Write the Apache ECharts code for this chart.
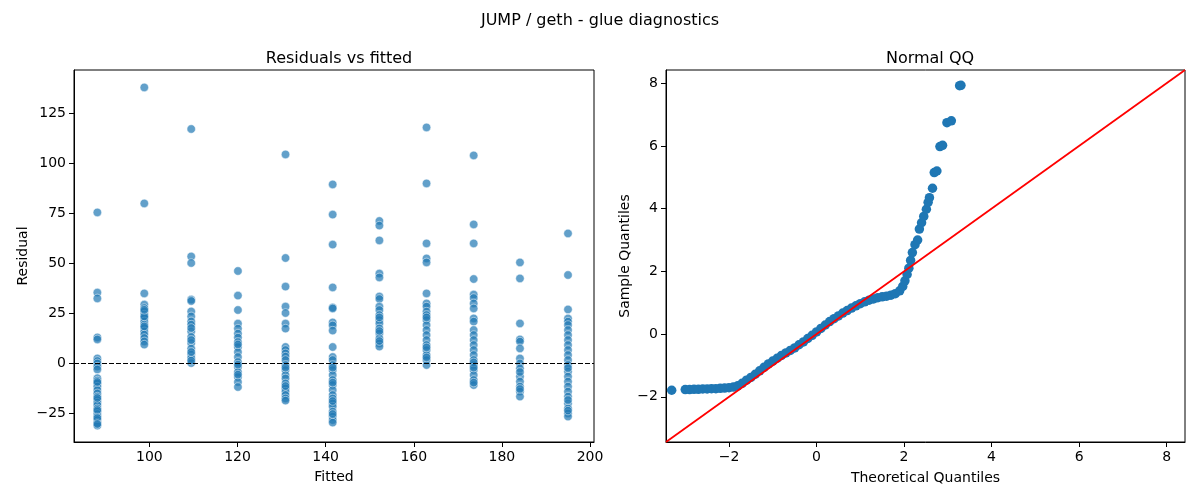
<!DOCTYPE html>
<html lang="en">
<head>
<meta charset="UTF-8">
<title>JUMP / geth - glue diagnostics</title>
<style>html,body{margin:0;padding:0;background:#fff;}</style>
</head>
<body>
<script src="https://cdn.jsdelivr.net/npm/echarts@6/dist/echarts.min.js"></script>
<div id="main" style="width:1200px;height:500px;"></div>
<script type="text/javascript">
// fitted levels (one column of residuals per level)
var fitted = [88.2, 98.85, 109.5, 120.1, 130.9, 141.6, 152.2, 162.9, 173.6, 184.1, 195.0];

// residuals read per column
var res1 = [75.3, 35.2, 32.3, 12.8, 11.8, 2.3, 1.0, -0.2, -1.8, -3.2, -7.6, -8.8, -10.2, -11.8, -13.5, -15.2, -16.8, -18.5, -19.8, -21, -22.7, -24.3, -25.5, -26.8, -28.5, -29.8, -31.3, -9.5, -17.5, -23.5, -27.5, -30.5];
var res2 = [137.8, 79.8, 34.8, 29.2, 27.5, 25.8, 24.2, 22.5, 20.8, 19.2, 17.5, 15.8, 14.2, 12.5, 10.8, 9.2, 18.3, 23.3, 26.6];
var res3 = [117, 53.3, 50, 31.7, 31, 25.8, 23.3, 20.8, 19.2, 15.8, 13, 10, 7.2, 4.2, 2.5, 0, 1.2, 5.5, 11.5, 17.5];
var res4 = [46, 33.7, 26.5, 19.7, 17.2, 14.7, 12.7, 10.5, 8, 5.5, 3, 0.5, -2, -4.5, -7, -9.5, -12, -0.8, -5.8, 9.3];
var res5 = [104.3, 52.5, 38.2, 28.2, 25, 19.7, 17.2, 8, 6.5, 4.8, 3.2, 1.5, -1, -3.5, -6, -7.7, -10.2, -12.7, -14.3, -16, -17.7, -18.8, -2.3, -11.5];
var res6 = [89.3, 74.2, 59.2, 37.8, 27.8, 27.3, 20.3, 18.8, 16.2, 8, 3, 1.5, -1, -3.5, -6, -8.5, -11, -13.5, -16, -17.7, -20.2, -21.8, -24.3, -26.8, -28.5, -29.8, -2.3, -9.8, -19, -25.5];
var res7 = [71, 68.7, 61.3, 44.7, 42.8, 33.2, 32, 28.2, 26.5, 24, 21.5, 19.8, 17.3, 14.8, 12.3, 9.8, 8.2, 22.8, 16, 11];
var res8 = [117.8, 89.8, 59.8, 52.3, 50.3, 34.8, 29.8, 28.2, 25.7, 24, 21.5, 19, 16.5, 14, 11.5, 9, 6.5, 4, 1.5, -1, 2.8, 7.8, 22.8];
var res9 = [103.8, 69.3, 59.8, 42, 34.2, 32.5, 29.8, 27.3, 22.3, 20.7, 16.5, 14, 11.5, 9, 6.5, 4, 1.5, -1, -3.5, -6, -8.5, -11, 0.3, -2.3, -9.8];
var res10 = [50.3, 42.3, 19.8, 11.8, 10.7, 7.3, 2.3, -0.2, -2.7, -6.8, -9.3, -11.8, -14.3, -16.8, -4.5, -13];
var res11 = [64.8, 44, 26.8, 22.3, 20.7, 19, 16.5, 14, 11.5, 9, 6.5, 4, 1.5, -1, -4.3, -6.8, -9.3, -11.8, -14.3, -16.8, -20.2, -22.7, -25.2, -26.8, -2.5, -18.5, -23.8];
var residualGroups = [res1, res2, res3, res4, res5, res6, res7, res8, res9, res10, res11];

// normal QQ points
var qqTheoretical = [-3.31, -3.0, -2.9, -2.8, -2.7, -2.6, -2.5, -2.4, -2.3, -2.2, -2.1, -2.0, -1.9, -1.8, -1.7, -1.6, -1.5, -1.4, -1.3, -1.2, -1.1, -1.0, -0.9, -0.8, -0.7, -0.6, -0.5, -0.4, -0.3, -0.2, -0.1, 0, 0.1, 0.2, 0.3, 0.4, 0.5, 0.6, 0.7, 0.8, 0.9, 1.0, 1.1, 1.2, 1.3, 1.4, 1.5, 1.6, 1.7, 1.8, 1.9, 1.97, 2.02, 2.07, 2.11, 2.15, 2.19, 2.25, 2.31, 2.35, 2.4, 2.45, 2.51, 2.55, 2.58, 2.65, 2.69, 2.75, 2.82, 2.88, 2.98, 3.08, 3.27, 3.3];
var qqSample = [-1.79, -1.77, -1.77, -1.76, -1.76, -1.75, -1.75, -1.74, -1.74, -1.73, -1.72, -1.71, -1.69, -1.65, -1.57, -1.47, -1.38, -1.28, -1.17, -1.06, -0.95, -0.86, -0.77, -0.68, -0.6, -0.52, -0.44, -0.34, -0.25, -0.14, -0.04, 0.07, 0.18, 0.29, 0.4, 0.49, 0.58, 0.67, 0.75, 0.83, 0.9, 0.97, 1.03, 1.08, 1.12, 1.16, 1.19, 1.21, 1.24, 1.29, 1.38, 1.52, 1.7, 1.9, 2.1, 2.35, 2.6, 2.85, 3.0, 3.35, 3.55, 3.75, 3.98, 4.2, 4.35, 4.65, 5.15, 5.2, 5.98, 6.02, 6.74, 6.8, 7.92, 7.93];

// axis limits and ticks
var fittedRange = [82.9, 200.9];
var residRange = [-39.5, 146.5];
var qqRange = [-3.44, 8.42];
var fittedTicks = [100, 120, 140, 160, 180, 200];
var residTicks = [-25, 0, 25, 50, 75, 100, 125];
var qqTicks = [-2, 0, 2, 4, 6, 8];

var scatterPts = [];
for (var i = 0; i < fitted.length; i++) {
    for (var j = 0; j < residualGroups[i].length; j++) {
        scatterPts.push([fitted[i], residualGroups[i][j]]);
    }
}
var qqPts = [];
for (var k = 0; k < qqTheoretical.length; k++) {
    qqPts.push([qqTheoretical[k], qqSample[k]]);
}

var FONT = 'DejaVu Sans';
function minus(v) { return String(v).replace('-', '\u2212'); }

function mkAxis(gridIdx, range, ticks, name, gap) {
    return {
        type: 'value', gridIndex: gridIdx,
        min: range[0], max: range[1],
        name: name, nameLocation: 'middle', nameGap: gap,
        nameTextStyle: {color: '#000', fontSize: 14, fontFamily: FONT},
        axisLine: {show: true, onZero: false, lineStyle: {color: '#000', width: 1}},
        axisTick: {show: true, length: 5, customValues: ticks, lineStyle: {color: '#000'}},
        axisLabel: {customValues: ticks, color: '#000', fontSize: 14, fontFamily: FONT, margin: 8, formatter: minus},
        splitLine: {show: false}
    };
}

var myChart = echarts.init(document.getElementById('main'));
myChart.setOption({
    animation: false,
    backgroundColor: '#fff',
    title: [
        {text: 'JUMP / geth - glue diagnostics', left: 'center', top: 8,
         textStyle: {fontSize: 16, fontWeight: 'normal', color: '#000', fontFamily: FONT}},
        {text: 'Residuals vs fitted', left: 334, textAlign: 'center', top: 46,
         textStyle: {fontSize: 16, fontWeight: 'normal', color: '#000', fontFamily: FONT}},
        {text: 'Normal QQ', left: 925, textAlign: 'center', top: 46,
         textStyle: {fontSize: 16, fontWeight: 'normal', color: '#000', fontFamily: FONT}}
    ],
    grid: [
        {left: 74, right: 606, top: 70, bottom: 58, show: true, borderColor: '#000', borderWidth: 1, containLabel: false},
        {left: 666, right: 15, top: 70, bottom: 58, show: true, borderColor: '#000', borderWidth: 1, containLabel: false}
    ],
    xAxis: [
        mkAxis(0, fittedRange, fittedTicks, 'Fitted', 28),
        mkAxis(1, qqRange, qqTicks, 'Theoretical Quantiles', 29)
    ],
    yAxis: [
        mkAxis(0, residRange, residTicks, 'Residual', 44),
        mkAxis(1, qqRange, qqTicks, 'Sample Quantiles', 34)
    ],
    series: [
        {
            type: 'scatter', xAxisIndex: 0, yAxisIndex: 0,
            data: scatterPts, symbolSize: 8.5,
            itemStyle: {color: 'rgba(31,119,180,0.7)', opacity: 1, borderColor: 'rgba(255,255,255,0.8)', borderWidth: 0.6},
            markLine: {
                silent: true, symbol: 'none', label: {show: false},
                lineStyle: {color: '#000', type: [5, 2], width: 1.1},
                data: [{yAxis: 0}]
            },
            z: 3
        },
        {
            type: 'scatter', xAxisIndex: 1, yAxisIndex: 1,
            data: qqPts, symbolSize: 9.5,
            itemStyle: {color: '#1f77b4', opacity: 1},
            z: 2
        },
        {
            type: 'line', xAxisIndex: 1, yAxisIndex: 1,
            data: [[qqRange[0], qqRange[0]], [qqRange[1], qqRange[1]]],
            symbol: 'none', clip: true,
            lineStyle: {color: '#ff0000', width: 1.8},
            z: 4
        }
    ]
});
</script>
</body>
</html>
